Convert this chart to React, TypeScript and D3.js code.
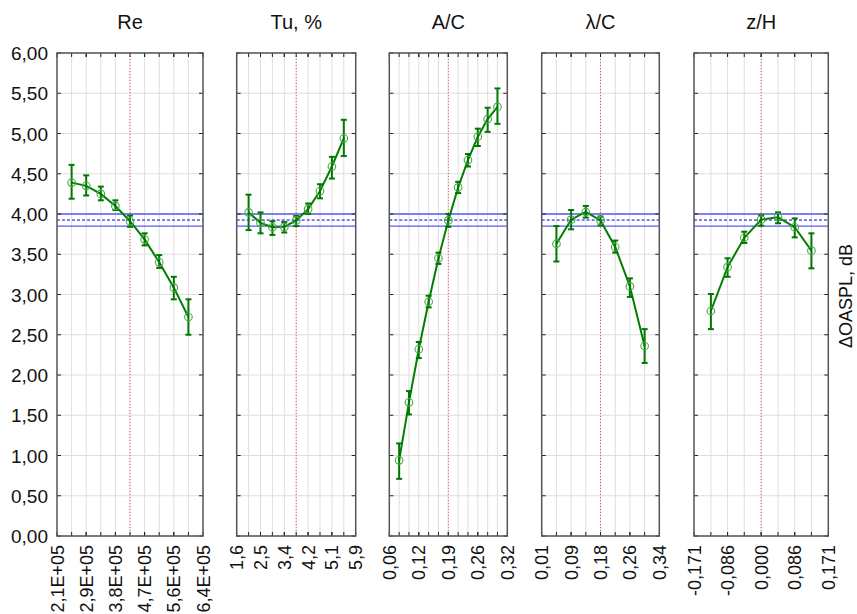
import * as d3 from 'd3';

// y axis (ΔOASPL, dB)
const yTicks = [0, 0.5, 1, 1.5, 2, 2.5, 3, 3.5, 4, 4.5, 5, 5.5, 6];
const bandHigh = 4.0;
const bandMean = 3.925;
const bandLow = 3.85;

// Re (x 1E+05)
const reTicks = [2.06, 2.935, 3.81, 4.685, 5.56, 6.435];
const reTickLabels = ['2,1E+05', '2,9E+05', '3,8E+05', '4,7E+05', '5,6E+05', '6,4E+05'];
const reX = [2.498, 2.935, 3.373, 3.81, 4.248, 4.685, 5.123, 5.56, 5.998];
const reMean = [4.39, 4.35, 4.25, 4.1, 3.91, 3.685, 3.4, 3.085, 2.72];
const reLow = [4.19, 4.23, 4.17, 4.05, 3.84, 3.61, 3.33, 2.94, 2.5];
const reHigh = [4.61, 4.48, 4.34, 4.17, 3.98, 3.76, 3.49, 3.22, 2.94];

// Tu, %
const tuTicks = [1.64, 2.5, 3.36, 4.22, 5.08, 5.94];
const tuTickLabels = ['1,6', '2,5', '3,4', '4,2', '5,1', '5,9'];
const tuX = [2.07, 2.5, 2.93, 3.36, 3.79, 4.22, 4.65, 5.08, 5.51];
const tuMean = [4.02, 3.89, 3.835, 3.84, 3.92, 4.06, 4.285, 4.59, 4.94];
const tuLow = [3.8, 3.76, 3.74, 3.77, 3.85, 4.0, 4.195, 4.44, 4.72];
const tuHigh = [4.24, 4.02, 3.91, 3.9, 3.975, 4.13, 4.37, 4.71, 5.17];

// A/C
const acTicks = [0.058, 0.1245, 0.191, 0.2575, 0.324];
const acTickLabels = ['0,06', '0,12', '0,19', '0,26', '0,32'];
const acX = [0.0802, 0.1023, 0.1245, 0.1467, 0.1688, 0.191, 0.2132, 0.2353, 0.2575, 0.2797, 0.3018];
const acMean = [0.94, 1.66, 2.32, 2.91, 3.45, 3.92, 4.33, 4.67, 4.96, 5.18, 5.33];
const acLow = [0.71, 1.51, 2.21, 2.84, 3.38, 3.84, 4.26, 4.59, 4.845, 5.02, 5.12];
const acHigh = [1.15, 1.8, 2.41, 2.985, 3.52, 4.0, 4.4, 4.745, 5.06, 5.32, 5.56];

// λ/C
const lcTicks = [0.012, 0.0945, 0.177, 0.2595, 0.342];
const lcTickLabels = ['0,01', '0,09', '0,18', '0,26', '0,34'];
const lcX = [0.0533, 0.0945, 0.1358, 0.177, 0.2183, 0.2595, 0.3008];
const lcMean = [3.63, 3.93, 4.025, 3.92, 3.59, 3.1, 2.36];
const lcLow = [3.41, 3.81, 3.955, 3.86, 3.52, 2.97, 2.15];
const lcHigh = [3.85, 4.05, 4.1, 3.97, 3.67, 3.2, 2.57];

// z/H
const zhTicks = [-0.171, -0.0855, 0, 0.0855, 0.171];
const zhTickLabels = ['-0,171', '-0,086', '0,000', '0,086', '0,171'];
const zhX = [-0.128, -0.0855, -0.043, 0, 0.043, 0.0855, 0.128];
const zhMean = [2.795, 3.34, 3.705, 3.93, 3.96, 3.835, 3.545];
const zhLow = [2.57, 3.22, 3.64, 3.855, 3.885, 3.71, 3.325];
const zhHigh = [3.006, 3.45, 3.78, 3.985, 4.02, 3.945, 3.76];

const panels = [
  { title: 'Re', left: 57, right: 203, ticks: reTicks, labels: reTickLabels, xs: reX, mean: reMean, low: reLow, high: reHigh },
  { title: 'Tu, %', left: 236.7, right: 355.7, ticks: tuTicks, labels: tuTickLabels, xs: tuX, mean: tuMean, low: tuLow, high: tuHigh },
  { title: 'A/C', left: 389.3, right: 507.3, ticks: acTicks, labels: acTickLabels, xs: acX, mean: acMean, low: acLow, high: acHigh },
  { title: 'λ/C', left: 541.7, right: 659.3, ticks: lcTicks, labels: lcTickLabels, xs: lcX, mean: lcMean, low: lcLow, high: lcHigh },
  { title: 'z/H', left: 694, right: 828.3, ticks: zhTicks, labels: zhTickLabels, xs: zhX, mean: zhMean, low: zhLow, high: zhHigh },
];

const top = 53;
const bottom = 536;
const font = 'Arial, "Liberation Sans", sans-serif';

function Panel({ p, showY }: { p: typeof panels[0]; showY: boolean }) {
  const x = d3.scaleLinear()
    .domain([p.ticks[0], p.ticks[p.ticks.length - 1]])
    .range([p.left, p.right]);
  const y = d3.scaleLinear().domain([0, 6]).range([bottom, top]);
  const pts = p.xs.map((v, i) => ({ x: v, m: p.mean[i], lo: p.low[i], hi: p.high[i] }));
  const line = d3.line<typeof pts[0]>()
    .x(d => x(d.x))
    .y(d => y(d.m));
  const center = p.xs[Math.floor(p.xs.length / 2)];
  const tickX = [...p.ticks, ...p.xs];

  return (
    <g>
      {/* grid */}
      {p.xs.map((v, i) => (
        <line key={'gx' + i} x1={x(v)} x2={x(v)} y1={top} y2={bottom} stroke="#dedede" strokeWidth={1} />
      ))}
      {yTicks.map((v, i) => (
        <line key={'gy' + i} x1={p.left} x2={p.right} y1={y(v)} y2={y(v)} stroke="#dedede" strokeWidth={1} />
      ))}
      {/* center marker */}
      <line x1={x(center)} x2={x(center)} y1={top} y2={bottom} stroke="#ff3030" strokeWidth={1} strokeDasharray="1,2" opacity={0.8} />
      {/* mean band */}
      <line x1={p.left} x2={p.right} y1={y(bandHigh)} y2={y(bandHigh)} stroke="#5a5af0" strokeWidth={1.4} />
      <line x1={p.left} x2={p.right} y1={y(bandLow)} y2={y(bandLow)} stroke="#5a5af0" strokeWidth={1.4} />
      <line x1={p.left} x2={p.right} y1={y(bandMean)} y2={y(bandMean)} stroke="#0000ee" strokeWidth={1} strokeDasharray="3,2" />
      {/* ticks */}
      {tickX.map((v, i) => (
        <g key={'tx' + i}>
          <line x1={x(v)} x2={x(v)} y1={top} y2={top + 4} stroke="#222" strokeWidth={1} />
          <line x1={x(v)} x2={x(v)} y1={bottom} y2={bottom - 4} stroke="#222" strokeWidth={1} />
        </g>
      ))}
      {yTicks.map((v, i) => (
        <g key={'ty' + i}>
          <line x1={p.left} x2={p.left + 4} y1={y(v)} y2={y(v)} stroke="#222" strokeWidth={1} />
          <line x1={p.right} x2={p.right - 4} y1={y(v)} y2={y(v)} stroke="#222" strokeWidth={1} />
        </g>
      ))}
      {/* frame */}
      <rect x={p.left} y={top} width={p.right - p.left} height={bottom - top} fill="none" stroke="#555" strokeWidth={1.5} />
      {/* data */}
      <path d={line(pts) || ''} fill="none" stroke="#008000" strokeWidth={2} />
      {pts.map((d, i) => (
        <g key={'e' + i} stroke="#007800" strokeWidth={2}>
          <line x1={x(d.x)} x2={x(d.x)} y1={y(d.lo)} y2={y(d.hi)} />
          <line x1={x(d.x) - 3} x2={x(d.x) + 3} y1={y(d.lo)} y2={y(d.lo)} />
          <line x1={x(d.x) - 3} x2={x(d.x) + 3} y1={y(d.hi)} y2={y(d.hi)} />
        </g>
      ))}
      {pts.map((d, i) => (
        <circle key={'c' + i} cx={x(d.x)} cy={y(d.m)} r={3.8} fill="none" stroke="#45a845" strokeWidth={1.1} />
      ))}
      {/* labels */}
      <text x={(p.left + p.right) / 2} y={29} textAnchor="middle" fontFamily={font} fontSize={20} fill="#111">{p.title}</text>
      {p.ticks.map((v, i) => (
        <text key={'lx' + i} transform={`translate(${x(v) + 6.5},545) rotate(-90)`} textAnchor="end" fontFamily={font} fontSize={18} fill="#111">{p.labels[i]}</text>
      ))}
      {showY && yTicks.map((v, i) => (
        <text key={'ly' + i} x={48} y={y(v) + 7} textAnchor="end" fontFamily={font} fontSize={19} fill="#111">{d3.format('.2f')(v).replace('.', ',')}</text>
      ))}
    </g>
  );
}

export default function App() {
  return (
    <svg width={857} height={614} style={{ position: 'absolute', left: 0, top: 0, background: '#fff' }}>
      <rect width={857} height={614} fill="#fff" />
      {panels.map((p, i) => <Panel key={i} p={p} showY={i === 0} />)}
      <text transform="translate(852,296) rotate(-90)" textAnchor="middle" fontFamily={font} fontSize={18} fill="#111">ΔOASPL, dB</text>
    </svg>
  );
}
